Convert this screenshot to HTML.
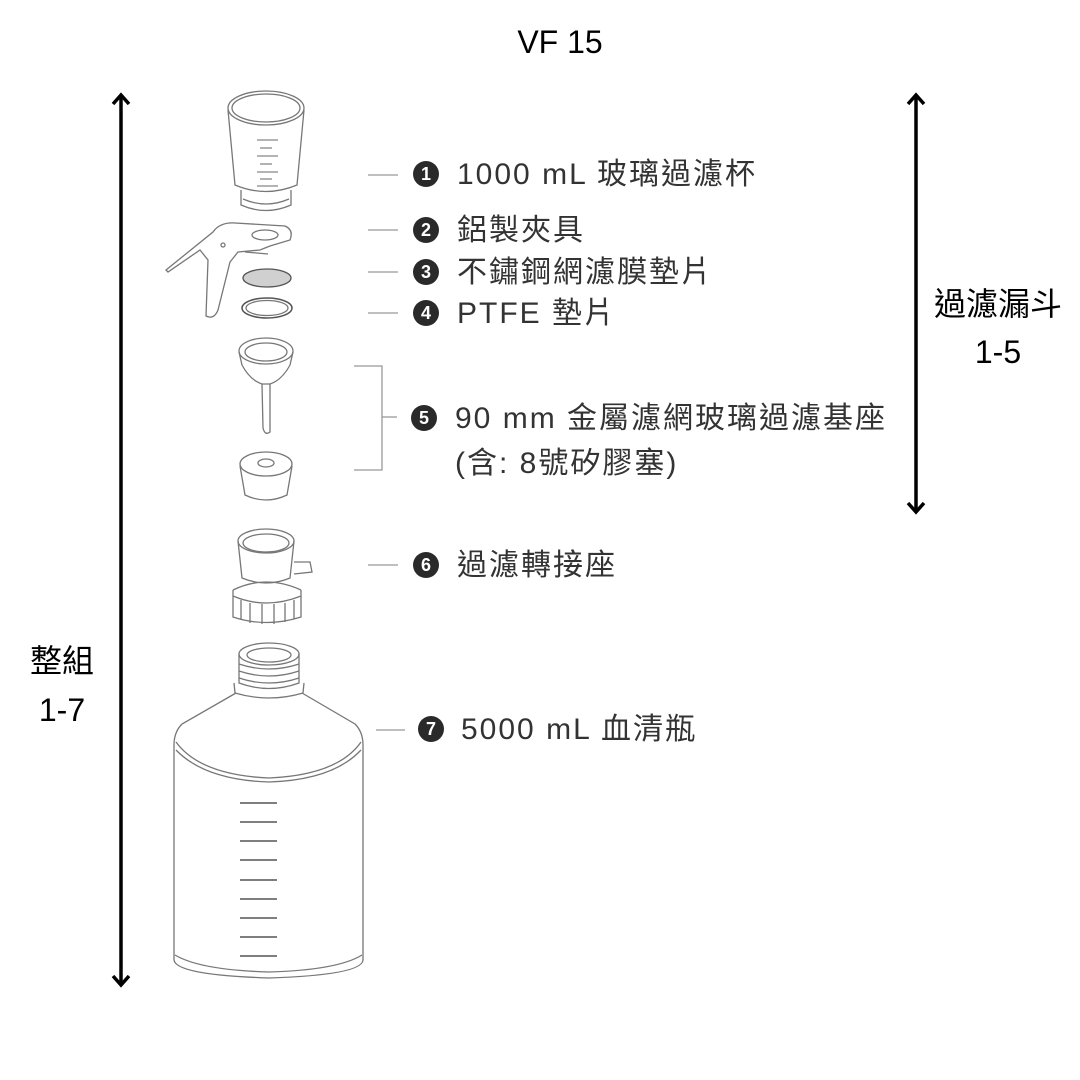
<!DOCTYPE html>
<html><head><meta charset="utf-8"><style>
html,body{margin:0;padding:0;background:#fff;width:1080px;height:1080px;overflow:hidden}
svg{display:block}
.t{font-family:"Liberation Sans","Noto Sans CJK TC",sans-serif;fill:#333;font-size:30px;letter-spacing:2px}
.k{font-family:"Liberation Sans","Noto Sans CJK TC",sans-serif;fill:#000;font-size:32px}
.n{font-family:"Liberation Sans",sans-serif;fill:#fff;font-size:18px;font-weight:bold}
.d{fill:none;stroke:#777;stroke-width:1.3}
.g{stroke:#999;stroke-width:1.3}
</style></head><body>
<svg width="1080" height="1080" viewBox="0 0 1080 1080">
<text class="k" x="560" y="53" text-anchor="middle" font-size="37">VF 15</text>
<g stroke="#000" stroke-width="3.5" fill="none">
<line x1="121" y1="97" x2="121" y2="983"/>
<polyline points="113,104 121,95 129,104"/>
<polyline points="113,976 121,985 129,976"/>
<line x1="916" y1="97" x2="916" y2="510"/>
<polyline points="908,104 916,95 924,104"/>
<polyline points="908,503 916,512 924,503"/>
</g>
<text class="k" x="62" y="672" text-anchor="middle">整組</text>
<text class="k" x="62" y="721" text-anchor="middle">1-7</text>
<text class="k" x="998" y="315" text-anchor="middle" font-size="34">過濾漏斗</text>
<text class="k" x="998" y="363" text-anchor="middle">1-5</text>

<g class="g">
<line x1="368" y1="175" x2="398" y2="175"/>
<line x1="368" y1="230" x2="398" y2="230"/>
<line x1="368" y1="272" x2="398" y2="272"/>
<line x1="368" y1="313" x2="398" y2="313"/>
<polyline fill="none" points="354,366 382,366 382,470 354,470"/>
<line x1="382" y1="417" x2="397" y2="417"/>
<line x1="368" y1="565" x2="398" y2="565"/>
<line x1="376" y1="730" x2="405" y2="730"/>
</g>
<g>
<circle cx="426" cy="174" r="13" fill="#2a2a2a"/><text class="n" x="426" y="180" text-anchor="middle">1</text>
<text class="t" x="457" y="184">1000 mL 玻璃過濾杯</text>
<circle cx="426" cy="230" r="13" fill="#2a2a2a"/><text class="n" x="426" y="236" text-anchor="middle">2</text>
<text class="t" x="457" y="240">鋁製夾具</text>
<circle cx="426" cy="272" r="13" fill="#2a2a2a"/><text class="n" x="426" y="278" text-anchor="middle">3</text>
<text class="t" x="457" y="282">不鏽鋼網濾膜墊片</text>
<circle cx="426" cy="313" r="13" fill="#2a2a2a"/><text class="n" x="426" y="319" text-anchor="middle">4</text>
<text class="t" x="457" y="323">PTFE 墊片</text>
<circle cx="424" cy="418" r="13" fill="#2a2a2a"/><text class="n" x="424" y="424" text-anchor="middle">5</text>
<text class="t" x="455" y="428">90 mm 金屬濾網玻璃過濾基座</text>
<text class="t" x="455" y="473">(含: 8號矽膠塞)</text>
<circle cx="426" cy="565" r="13" fill="#2a2a2a"/><text class="n" x="426" y="571" text-anchor="middle">6</text>
<text class="t" x="457" y="575">過濾轉接座</text>
<circle cx="431" cy="729" r="13" fill="#2a2a2a"/><text class="n" x="431" y="735" text-anchor="middle">7</text>
<text class="t" x="461" y="739">5000 mL 血清瓶</text>
</g>

<g class="d">
<ellipse cx="266" cy="108" rx="38" ry="17"/>
<ellipse cx="266" cy="108" rx="34" ry="14"/>
<path d="M228,110 L235,185 Q266,198 297,185 L304,110"/>
<path d="M241,190 L241,205 Q266,216 291,205 L291,190"/>
<path d="M243,199 Q266,209 289,199"/>
<g stroke="#888"><line x1="257" y1="140" x2="278" y2="140"/><line x1="260" y1="148" x2="272" y2="148"/><line x1="257" y1="156" x2="278" y2="156"/><line x1="260" y1="164" x2="272" y2="164"/><line x1="257" y1="172" x2="278" y2="172"/><line x1="260" y1="179" x2="272" y2="179"/><line x1="257" y1="186" x2="278" y2="186"/></g>
<path d="M166,270 L213,232 Q220,222 235,223 L285,226 Q294,230 290,240 L270,246 L260,250 L238,252 L230,262 L218,310 Q214,320 206,316 L208,260 L200,250 L168,272 Z"/>
<ellipse cx="265" cy="235" rx="13" ry="5"/>
<circle cx="223" cy="245" r="2"/>
<path d="M245,252 L268,254"/>
<ellipse cx="267" cy="278" rx="24" ry="9" fill="#d0d0d0" stroke="#555"/>
<ellipse cx="267" cy="308" rx="25" ry="10" stroke="#555" stroke-width="1.5"/>
<ellipse cx="267" cy="308" rx="21" ry="7.5"/>
<ellipse cx="266" cy="351" rx="27" ry="13"/>
<ellipse cx="266" cy="352" rx="21" ry="9"/>
<path d="M239,352 L242,365 Q250,380 262,384 L270,384 Q282,380 290,365 L293,352"/>
<path d="M262,384 L263,428 Q265,436 270,432 L270,384"/>
<ellipse cx="266" cy="464" rx="26" ry="12"/>
<ellipse cx="266" cy="463" rx="8" ry="4"/>
<path d="M240,466 L245,495 Q266,505 287,495 L292,466"/>
<ellipse cx="266" cy="541" rx="28" ry="12"/>
<ellipse cx="266" cy="543" rx="23" ry="9"/>
<path d="M238,541 L242,578 Q266,588 290,578 L294,541"/>
<path d="M294,562 L310,562 L312,572 L294,574"/>
<path d="M233,590 Q266,574 301,590"/>
<path d="M233,590 L233,617 Q266,628 301,617 L301,590"/>
<path d="M233,596 Q266,610 301,596"/>
<g><line x1="241" y1="600" x2="241" y2="620"/><line x1="250" y1="603" x2="250" y2="623"/><line x1="262" y1="604" x2="262" y2="624"/><line x1="274" y1="604" x2="274" y2="624"/><line x1="285" y1="603" x2="285" y2="622"/><line x1="294" y1="600" x2="294" y2="619"/></g>
<ellipse cx="269" cy="654" rx="30" ry="11"/>
<ellipse cx="269" cy="655" rx="22" ry="7"/>
<path d="M239,654 L239,683 Q269,694 299,683 L299,654"/>
<path d="M239,664 Q269,674 299,664 M239,671 Q269,681 299,671 M239,678 Q269,688 299,678"/>
<path d="M234,683 L235,693 Q269,703 303,693 L304,683"/>
<path d="M236,693 L182,724 Q174,732 174,745 L174,960 Q176,975 269,978 Q362,975 363,960 L363,745 Q363,732 355,724 L302,693"/>
<path d="M176,742 Q200,775 269,778 Q338,775 361,742"/>
<path d="M176,750 Q205,780 269,782 Q333,780 361,750"/>
<path d="M175,955 Q200,970 269,972 Q338,970 362,955"/>
<g stroke="#555" stroke-width="1.6"><line x1="240" y1="803" x2="277" y2="803"/><line x1="240" y1="822" x2="277" y2="822"/><line x1="240" y1="841" x2="277" y2="841"/><line x1="240" y1="860" x2="277" y2="860"/><line x1="240" y1="880" x2="277" y2="880"/><line x1="240" y1="899" x2="277" y2="899"/><line x1="240" y1="918" x2="277" y2="918"/><line x1="240" y1="937" x2="277" y2="937"/><line x1="240" y1="956" x2="277" y2="956"/></g>
</g>
</svg>
</body></html>
